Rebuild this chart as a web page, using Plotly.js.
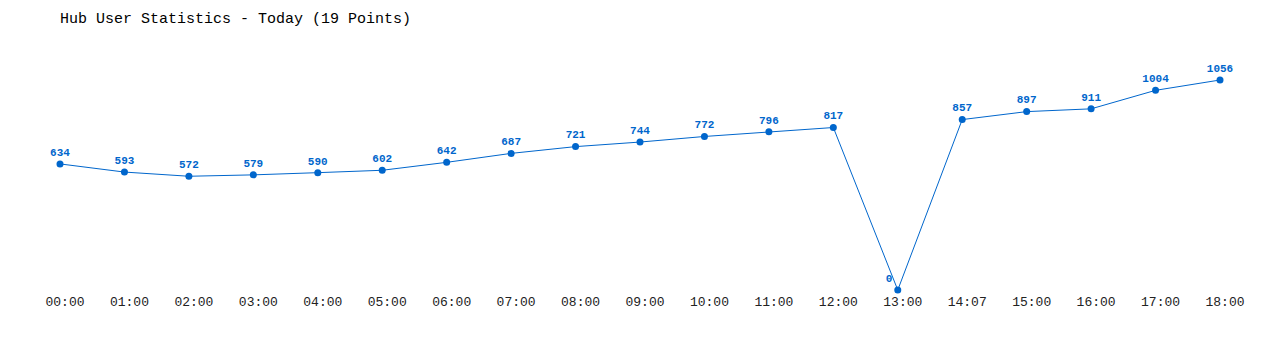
<!DOCTYPE html>
<html>
<head>
<meta charset="utf-8">
<script src="https://cdn.plot.ly/plotly-3.0.1.min.js"></script>
<style>html,body{margin:0;padding:0;background:#fff;}#chart{width:1280px;height:350px;}</style>
</head>
<body>
<div id="chart"></div>
<script>
const times = ["00:00","01:00","02:00","03:00","04:00","05:00","06:00","07:00","08:00","09:00","10:00","11:00","12:00","13:00","14:07","15:00","16:00","17:00","18:00"];
const users = [634,593,572,579,590,602,642,687,721,744,772,796,817,0,857,897,911,1004,1056];
const chartTitle = "Hub User Statistics - Today (19 Points)";

const idx = times.map((t,i)=>i);
const positions = users.map(v => v === 0 ? "top left" : "top center");

const trace = {
  x: idx,
  y: users,
  mode: "lines+markers+text",
  text: users.map(String),
  textposition: positions,
  textfont: {family: "Liberation Mono, DejaVu Sans Mono, monospace", size: 11, color: "#0066cc", weight: "bold"},
  line: {color: "#0066cc", width: 1},
  marker: {color: "#0066cc", size: 7},
  cliponaxis: false,
  hoverinfo: "none"
};

const layout = {
  width: 1280, height: 350,
  margin: {l: 60, r: 60, t: 80, b: 60},
  paper_bgcolor: "#fff", plot_bgcolor: "#fff",
  showlegend: false,
  title: {
    text: chartTitle,
    font: {family: "Liberation Mono, DejaVu Sans Mono, monospace", size: 15, color: "#000"},
    xref: "container", x: 60/1280, xanchor: "left",
    yref: "container", y: 1 - 18/350, yanchor: "middle"
  },
  xaxis: {
    range: [0, 18],
    tickvals: idx,
    ticktext: times,
    showgrid: false, zeroline: false, showline: false,
    ticks: "", ticklabelshift: 5, ticklabelstandoff: 2,
    tickfont: {family: "Liberation Mono, DejaVu Sans Mono, monospace", size: 13, color: "#222"},
    fixedrange: true
  },
  yaxis: {
    range: [0, 1056],
    showgrid: false, zeroline: false, showline: false, showticklabels: false, ticks: "",
    fixedrange: true
  }
};

Plotly.newPlot("chart", [trace], layout, {displayModeBar: false, staticPlot: true});
</script>
</body>
</html>
